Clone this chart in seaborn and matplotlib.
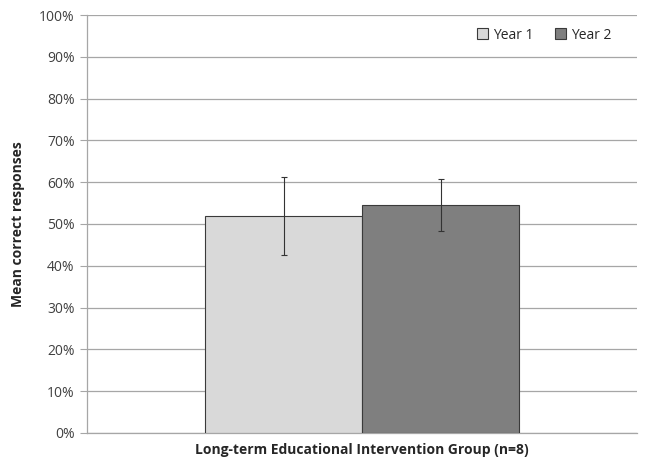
import pandas as pd
import matplotlib.pyplot as plt
import seaborn as sns
from matplotlib.ticker import PercentFormatter

group = ['Long-term Educational Intervention Group (n=8)']
years = ['Year 1', 'Year 2']
means = [51.9, 54.5]
errors = [9.3, 6.3]
colors = ['#d9d9d9', '#7f7f7f']

data = pd.DataFrame({'Group': group * 2, 'Year': years, 'Mean': means})

sns.set_style('white')
plt.rcParams['font.family'] = ['Open Sans', 'DejaVu Sans']

fig = plt.figure(figsize=(6.45, 4.7), dpi=100)
ax = fig.add_axes([0.135, 0.079, 0.853, 0.889])

sns.barplot(data=data, x='Group', y='Mean', hue='Year', palette=colors,
            width=0.57, gap=0, edgecolor='#3a3a3a', linewidth=0.8,
            errorbar=None, ax=ax, zorder=3)

# error bars on top of each bar
for patch, m, e in zip(ax.patches[:len(years)], means, errors):
    cx = patch.get_x() + patch.get_width() / 2
    ax.errorbar(cx, m, yerr=e, color='#333333', capsize=2.5, elinewidth=0.8,
                capthick=0.8, zorder=4)

ax.set_ylim(0, 100)
ax.set_xlim(-0.5, 0.5)
ax.set_yticks(range(0, 101, 10))
ax.yaxis.set_major_formatter(PercentFormatter(decimals=0))
ax.yaxis.grid(True, color='#a6a6a6', linewidth=0.9, zorder=0)
ax.set_axisbelow(True)
ax.tick_params(axis='y', left=True, length=5, color='#a6a6a6', labelsize=10,
               labelcolor='#404040', pad=4)
ax.tick_params(axis='x', bottom=False, labelbottom=False)
for s in ['top', 'right']:
    ax.spines[s].set_visible(False)
for s in ['left', 'bottom']:
    ax.spines[s].set_color('#a6a6a6')
    ax.spines[s].set_linewidth(0.9)

ax.set_xlabel('Long-term Educational Intervention Group (n=8)', fontsize=10,
              fontweight='bold', labelpad=7)
ax.set_ylabel('Mean correct responses', fontsize=10, fontweight='bold',
              labelpad=10)

leg = ax.legend(loc='upper right', frameon=False, ncol=2, fontsize=10,
                handlelength=0.8, handleheight=0.8, handletextpad=0.3,
                columnspacing=1.6, bbox_to_anchor=(0.975, 1.0))

fig.savefig('out.png', dpi=100)
